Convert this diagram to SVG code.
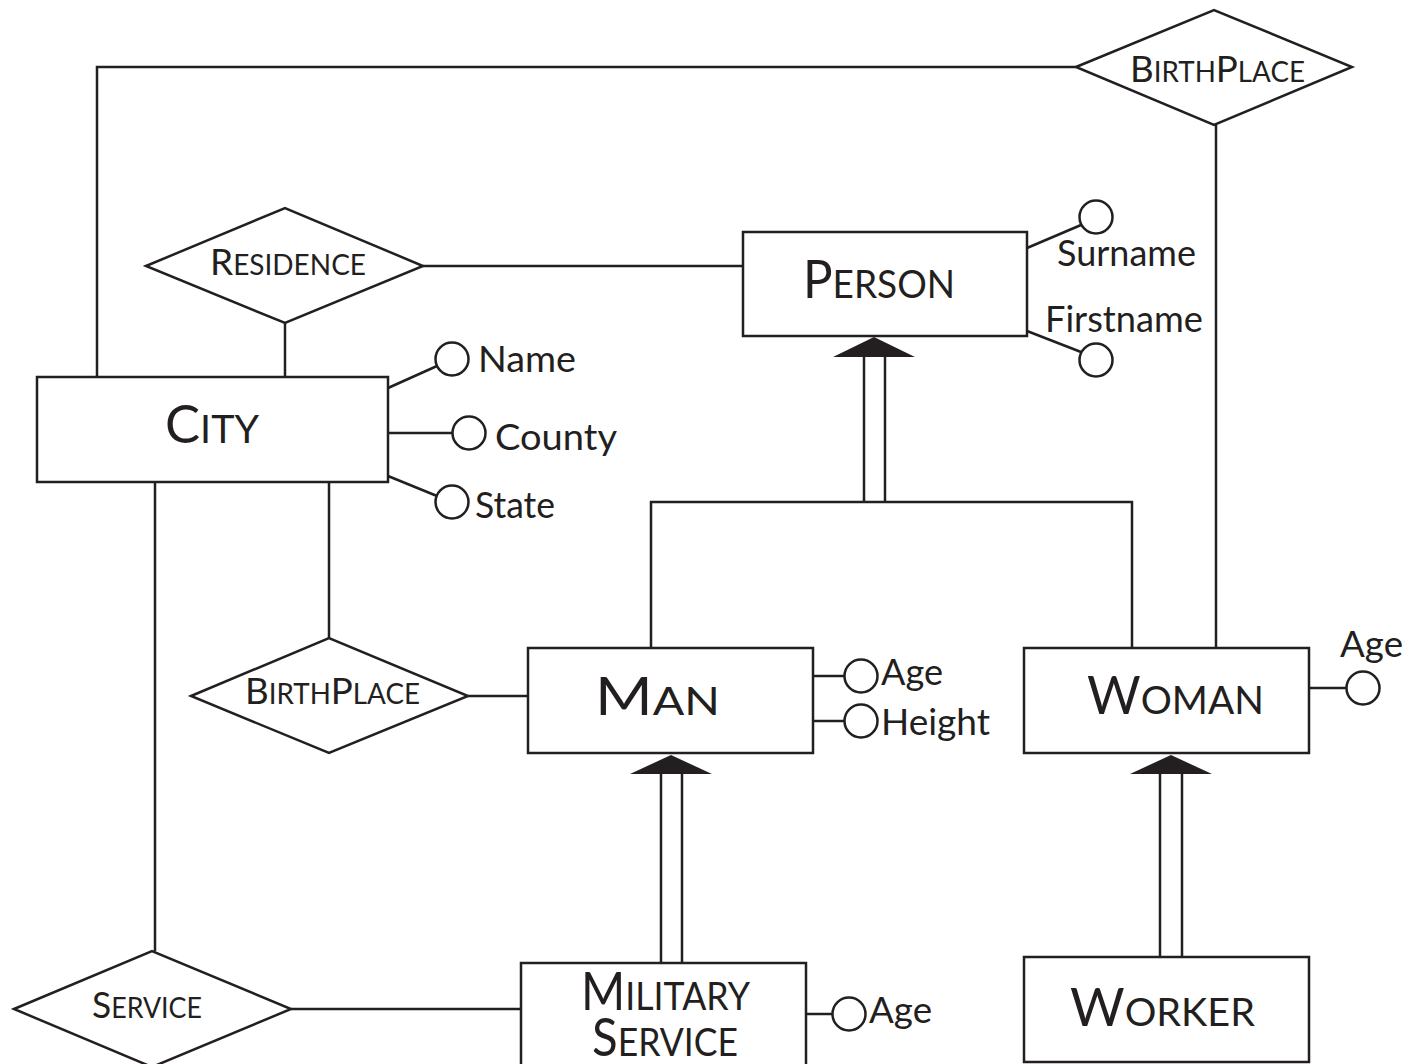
<svg xmlns="http://www.w3.org/2000/svg" width="1406" height="1064" viewBox="0 0 1406 1064">
<style>
.s{fill:none;stroke:#231f20;stroke-width:2.5}
.n{fill:#fff;stroke:#231f20;stroke-width:2.5}
.t{font-family:Lato,"Open Sans","Liberation Sans",sans-serif;fill:#231f20}
.at{font-size:36px}
.ent{font-size:39px}
.entB{font-size:52px}
.rel{font-size:28px}
.relB{font-size:37px}
.ar{fill:#231f20;stroke:none}
</style>
<rect width="1406" height="1064" fill="#fff"/>
<g id="connectors">
<polyline class="s" points="97,377 97,67 1076,67"/>
<line class="s" x1="1216" y1="125" x2="1216" y2="648"/>
<line class="s" x1="423" y1="266" x2="743" y2="266"/>
<line class="s" x1="285" y1="323" x2="285" y2="377"/>
<line class="s" x1="155" y1="482" x2="155" y2="951"/>
<line class="s" x1="329" y1="482" x2="329" y2="638"/>
<line class="s" x1="468" y1="696" x2="528" y2="696"/>
<line class="s" x1="291" y1="1009" x2="521" y2="1009"/>
<!-- Person ISA -->
<polygon class="ar" points="874,337 833,357 915,357"/>
<line class="s" x1="864" y1="356" x2="864" y2="502"/>
<line class="s" x1="885" y1="356" x2="885" y2="502"/>
<polyline class="s" points="651,648 651,502 1132,502 1132,648"/>
<!-- Man ISA -->
<polygon class="ar" points="671,755 630,774 712,774"/>
<line class="s" x1="661" y1="773" x2="661" y2="963"/>
<line class="s" x1="682" y1="773" x2="682" y2="963"/>
<!-- Woman ISA -->
<polygon class="ar" points="1171,755 1130,774 1212,774"/>
<line class="s" x1="1160" y1="773" x2="1160" y2="957"/>
<line class="s" x1="1182" y1="773" x2="1182" y2="957"/>
<!-- attribute links -->
<line class="s" x1="388" y1="388" x2="437" y2="366"/>
<line class="s" x1="388" y1="433" x2="453" y2="433"/>
<line class="s" x1="388" y1="476" x2="437" y2="496"/>
<line class="s" x1="1027" y1="248" x2="1081" y2="225"/>
<line class="s" x1="1027" y1="331" x2="1081" y2="352"/>
<line class="s" x1="813" y1="676" x2="845" y2="676"/>
<line class="s" x1="813" y1="721" x2="845" y2="721"/>
<line class="s" x1="1309" y1="688" x2="1347" y2="688"/>
<line class="s" x1="806" y1="1014" x2="833" y2="1014"/>
</g>
<g id="birthplace-top">
<polygon class="n" points="1076,67 1214,10 1352,67 1214,125"/>
<text class="t rel" x="1130" y="82" textLength="175" lengthAdjust="spacingAndGlyphs"><tspan class="relB">B</tspan>IRTH<tspan class="relB">P</tspan>LACE</text>
</g>
<g id="residence">
<polygon class="n" points="146,266 285,208 423,266 285,323"/>
<text class="t rel" x="210" y="275" textLength="156" lengthAdjust="spacingAndGlyphs"><tspan class="relB">R</tspan>ESIDENCE</text>
</g>
<g id="person">
<rect class="n" x="743" y="232" width="284" height="104"/>
<text class="t ent" x="803" y="298" textLength="152" lengthAdjust="spacingAndGlyphs"><tspan class="entB">P</tspan>ERSON</text>
</g>
<g id="person-surname">
<circle class="n" cx="1096" cy="217" r="16.5"/>
<text class="t at" x="1057" y="266" textLength="139" lengthAdjust="spacingAndGlyphs">Surname</text>
</g>
<g id="person-firstname">
<circle class="n" cx="1096" cy="360" r="16.5"/>
<text class="t at" x="1045" y="332" textLength="158" lengthAdjust="spacingAndGlyphs">Firstname</text>
</g>
<g id="city">
<rect class="n" x="37" y="377" width="351" height="105"/>
<text class="t ent" x="165" y="443" textLength="94" lengthAdjust="spacingAndGlyphs"><tspan class="entB">C</tspan>ITY</text>
</g>
<g id="city-name">
<circle class="n" cx="452" cy="359" r="16.5"/>
<text class="t at" x="478" y="372" textLength="98" lengthAdjust="spacingAndGlyphs">Name</text>
</g>
<g id="city-county">
<circle class="n" cx="469" cy="433" r="16.5"/>
<text class="t at" x="495" y="450" textLength="122" lengthAdjust="spacingAndGlyphs">County</text>
</g>
<g id="city-state">
<circle class="n" cx="452" cy="502" r="16.5"/>
<text class="t at" x="475" y="518" textLength="80" lengthAdjust="spacingAndGlyphs">State</text>
</g>
<g id="birthplace-man">
<polygon class="n" points="191,696 329,638 468,696 329,753"/>
<text class="t rel" x="245" y="704" textLength="175" lengthAdjust="spacingAndGlyphs"><tspan class="relB">B</tspan>IRTH<tspan class="relB">P</tspan>LACE</text>
</g>
<g id="man">
<rect class="n" x="528" y="648" width="285" height="105"/>
<text class="t ent" x="595" y="715" textLength="125" lengthAdjust="spacingAndGlyphs"><tspan class="entB">M</tspan>AN</text>
</g>
<g id="man-age">
<circle class="n" cx="861" cy="676" r="16.5"/>
<text class="t at" x="881" y="685" textLength="62" lengthAdjust="spacingAndGlyphs">Age</text>
</g>
<g id="man-height">
<circle class="n" cx="861" cy="721" r="16.5"/>
<text class="t at" x="881" y="735" textLength="109" lengthAdjust="spacingAndGlyphs">Height</text>
</g>
<g id="woman">
<rect class="n" x="1024" y="648" width="285" height="105"/>
<text class="t ent" x="1087" y="714" textLength="177" lengthAdjust="spacingAndGlyphs"><tspan class="entB">W</tspan>OMAN</text>
</g>
<g id="woman-age">
<circle class="n" cx="1363" cy="688" r="16.5"/>
<text class="t at" x="1340" y="657" textLength="63" lengthAdjust="spacingAndGlyphs">Age</text>
</g>
<g id="service">
<polygon class="n" points="14,1009 152,951 291,1009 152,1067"/>
<text class="t rel" x="92" y="1018" textLength="110" lengthAdjust="spacingAndGlyphs"><tspan class="relB">S</tspan>ERVICE</text>
</g>
<g id="military-service">
<rect class="n" x="521" y="963" width="285" height="110"/>
<text class="t ent" x="581" y="1010" textLength="169" lengthAdjust="spacingAndGlyphs"><tspan class="entB">M</tspan>ILITARY</text>
<text class="t ent" x="592" y="1056" textLength="146" lengthAdjust="spacingAndGlyphs"><tspan class="entB">S</tspan>ERVICE</text>
</g>
<g id="military-age">
<circle class="n" cx="849" cy="1014" r="16.5"/>
<text class="t at" x="869" y="1023" textLength="63" lengthAdjust="spacingAndGlyphs">Age</text>
</g>
<g id="worker">
<rect class="n" x="1024" y="957" width="285" height="105"/>
<text class="t ent" x="1070" y="1026" textLength="185" lengthAdjust="spacingAndGlyphs"><tspan class="entB">W</tspan>ORKER</text>
</g>
</svg>
